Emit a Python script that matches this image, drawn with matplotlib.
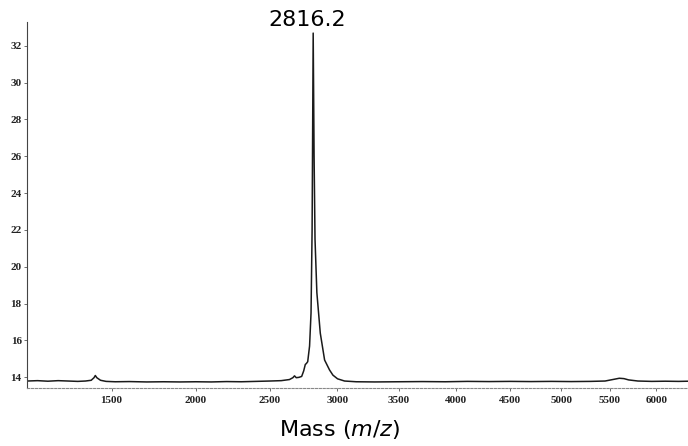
import numpy as np
import matplotlib.pyplot as plt

mz = [1072, 1120, 1170, 1220, 1270, 1320, 1360, 1390, 1405, 1412, 1420, 1440,
      1470, 1520, 1600, 1700, 1800, 1900, 2000, 2100, 2200, 2300, 2400, 2500,
      2580, 2640, 2665, 2677, 2690, 2710, 2730, 2745, 2757, 2765, 2775, 2789,
      2800, 2808, 2816.2, 2823, 2830, 2844, 2870, 2903, 2941, 2967, 3003, 3058,
      3150, 3300, 3500, 3700, 3900, 4100, 4300, 4500, 4700, 4900, 5100, 5300,
      5450, 5550, 5600, 5650, 5700, 5800, 5950, 6100, 6250, 6355]
intensity = [13.80, 13.82, 13.79, 13.82, 13.80, 13.78, 13.80, 13.84, 13.98, 14.10, 13.98, 13.84,
             13.78, 13.76, 13.77, 13.75, 13.76, 13.75, 13.76, 13.75, 13.77, 13.76, 13.78, 13.80,
             13.82, 13.88, 13.98, 14.08, 13.98, 14.00, 14.05, 14.35, 14.70, 14.75, 14.85, 15.70,
             17.50, 22.00, 32.69, 26.00, 21.50, 18.60, 16.40, 14.94, 14.40, 14.12, 13.92, 13.80,
             13.76, 13.75, 13.76, 13.77, 13.76, 13.78, 13.77, 13.78, 13.77, 13.78, 13.77, 13.78,
             13.80, 13.90, 13.95, 13.93, 13.86, 13.80, 13.78, 13.79, 13.78, 13.79]

x_ticks = [1500, 2000, 2500, 3000, 3500, 4000, 4500, 5000, 5500, 6000]
y_ticks = [14, 16, 18, 20, 22, 24, 26, 28, 30, 32]
peak_mz = 2816.2
peak_height = 32.69

plt.rcParams['mathtext.fontset'] = 'dejavusans'

fig = plt.figure(figsize=(6.88, 4.46), dpi=100)
ax = fig.add_axes([0.0397, 0.130, 0.9603, 0.821])

# time-of-flight axis: position goes with sqrt(m/z)
ax.set_xscale('function', functions=(np.sqrt, np.square))
ax.plot(mz, intensity, color='#1a1a1a', lw=1.1)

ax.set_xlim(1072, 6355)
ax.set_ylim(13.42, 33.3)
ax.set_xticks(x_ticks)
ax.set_xticklabels([str(t) for t in x_ticks])
ax.set_yticks(y_ticks)
ax.set_yticklabels([str(t) for t in y_ticks])
ax.minorticks_off()

for lab in ax.get_xticklabels() + ax.get_yticklabels():
    lab.set_fontfamily('Liberation Serif')
    lab.set_fontweight('bold')
    lab.set_fontsize(8)
    lab.set_color('#222222')

ax.tick_params(axis='both', direction='out', length=2.5, width=0.6, color='#555555')
ax.tick_params(axis='x', pad=3)
ax.tick_params(axis='y', pad=1.5)

ax.spines['top'].set_visible(False)
ax.spines['right'].set_visible(False)
ax.spines['left'].set_color('#444444')
ax.spines['left'].set_linewidth(0.8)
ax.spines['bottom'].set_color('#888888')
ax.spines['bottom'].set_linewidth(0.8)
ax.spines['bottom'].set_linestyle((0, (2, 1.5)))

# peak label sits just above the apex
ax.annotate('2816.2', xy=(peak_mz, peak_height), xytext=(-4, 2),
            textcoords='offset points', ha='center', va='bottom',
            fontsize=16, family='DejaVu Sans', color='black')

fig.text(0.493, 0.036, r'Mass ($\mathit{m/z}$)', ha='center', va='center',
         fontsize=16, family='DejaVu Sans')

fig.savefig('out.png', dpi=100)
